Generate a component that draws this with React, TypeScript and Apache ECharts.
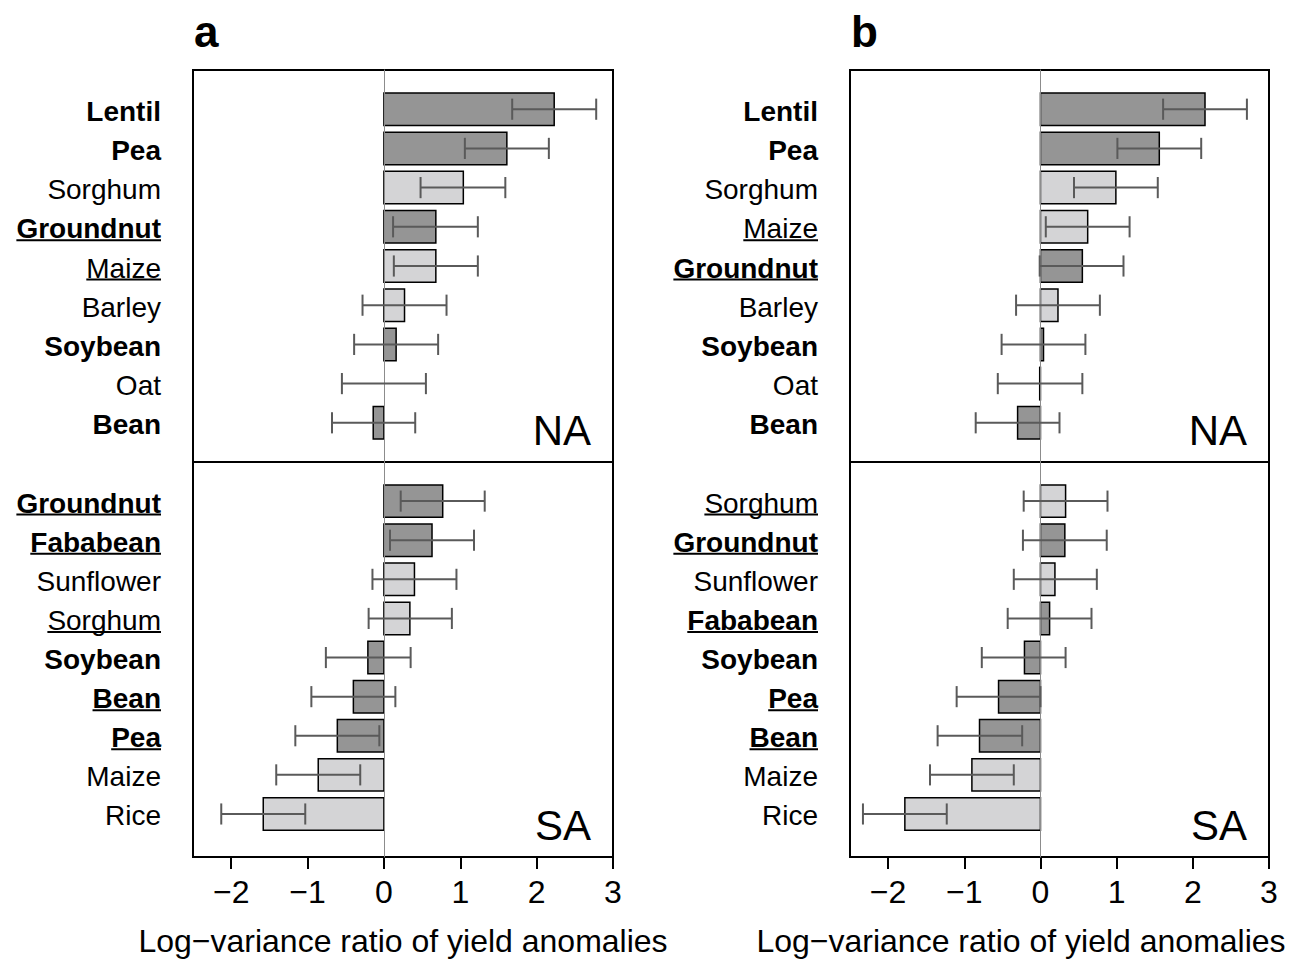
import React, { useEffect, useRef } from "react";
import * as echarts from "echarts";

// ---------- data ----------
const legumes = ["Lentil", "Pea", "Groundnut", "Soybean", "Bean", "Fababean"];

// Panel a – NA
const aNACrops = ["Lentil", "Pea", "Sorghum", "Groundnut", "Maize", "Barley", "Soybean", "Oat", "Bean"];
const aNAValues = [2.23, 1.61, 1.04, 0.68, 0.68, 0.27, 0.16, 0.0, -0.14];
const aNALower = [1.68, 1.06, 0.48, 0.12, 0.13, -0.28, -0.39, -0.55, -0.68];
const aNAUpper = [2.78, 2.16, 1.59, 1.23, 1.23, 0.82, 0.71, 0.55, 0.41];
const aNAUnderlined = [false, false, false, true, true, false, false, false, false];

// Panel a – SA
const aSACrops = ["Groundnut", "Fababean", "Sunflower", "Sorghum", "Soybean", "Bean", "Pea", "Maize", "Rice"];
const aSAValues = [0.77, 0.63, 0.4, 0.34, -0.21, -0.4, -0.61, -0.86, -1.58];
const aSALower = [0.22, 0.08, -0.15, -0.2, -0.76, -0.95, -1.16, -1.41, -2.13];
const aSAUpper = [1.32, 1.18, 0.95, 0.89, 0.35, 0.15, -0.06, -0.31, -1.03];
const aSAUnderlined = [true, true, false, true, false, true, true, false, false];

// Panel b – NA
const bNACrops = ["Lentil", "Pea", "Sorghum", "Maize", "Groundnut", "Barley", "Soybean", "Oat", "Bean"];
const bNAValues = [2.16, 1.56, 0.99, 0.62, 0.55, 0.23, 0.04, -0.01, -0.3];
const bNALower = [1.61, 1.01, 0.44, 0.07, -0.01, -0.32, -0.51, -0.56, -0.85];
const bNAUpper = [2.71, 2.11, 1.54, 1.17, 1.09, 0.78, 0.59, 0.55, 0.25];
const bNAUnderlined = [false, false, false, true, true, false, false, false, false];

// Panel b – SA
const bSACrops = ["Sorghum", "Groundnut", "Sunflower", "Fababean", "Soybean", "Pea", "Bean", "Maize", "Rice"];
const bSAValues = [0.33, 0.32, 0.19, 0.12, -0.21, -0.55, -0.8, -0.9, -1.78];
const bSALower = [-0.22, -0.23, -0.35, -0.43, -0.77, -1.1, -1.35, -1.45, -2.33];
const bSAUpper = [0.88, 0.87, 0.74, 0.67, 0.33, 0.0, -0.24, -0.35, -1.23];
const bSAUnderlined = [true, true, false, true, false, true, true, false, false];

const xTicks = [-2, -1, 0, 1, 2, 3];
const xTitle = "Log\u2212variance ratio of yield anomalies";

// ---------- style ----------
const FONT = "'Liberation Sans', Helvetica, Arial, sans-serif";
const DARK = "#959595";
const LIGHT = "#d4d4d6";
const ERR = "#5a5a5a";
const X_MIN = -2.5;
const X_MAX = 3;

function measure(text: string, bold: boolean, size: number): number {
  const ctx = document.createElement("canvas").getContext("2d");
  if (!ctx) return text.length * size * 0.55;
  ctx.font = `${bold ? "bold " : ""}${size}px ${FONT}`;
  return ctx.measureText(text).width;
}

export default function App() {
  const ref = useRef<HTMLDivElement>(null);

  useEffect(() => {
    document.body.style.margin = "0";
    if (!ref.current) return;
    const chart = echarts.init(ref.current, undefined, { renderer: "svg" });

    const panels = [
      { crops: aNACrops, values: aNAValues, lower: aNALower, upper: aNAUpper, under: aNAUnderlined, left: 193, top: 70, width: 420, height: 392, ymax: 9, showX: false, region: "NA" },
      { crops: aSACrops, values: aSAValues, lower: aSALower, upper: aSAUpper, under: aSAUnderlined, left: 193, top: 462, width: 420, height: 395, ymax: 9.1, showX: true, region: "SA" },
      { crops: bNACrops, values: bNAValues, lower: bNALower, upper: bNAUpper, under: bNAUnderlined, left: 850, top: 70, width: 419, height: 392, ymax: 9, showX: false, region: "NA" },
      { crops: bSACrops, values: bSAValues, lower: bSALower, upper: bSAUpper, under: bSAUnderlined, left: 850, top: 462, width: 419, height: 395, ymax: 9.1, showX: true, region: "SA" },
    ];

    const grid: any[] = [];
    const xAxis: any[] = [];
    const yAxis: any[] = [];
    const series: any[] = [];
    const graphic: any[] = [];

    panels.forEach((p, gi) => {
      grid.push({
        left: p.left, top: p.top, width: p.width, height: p.height,
        show: true, borderColor: "#000", borderWidth: 2, backgroundColor: "transparent",
      });
      xAxis.push({
        gridIndex: gi, type: "value", min: X_MIN, max: X_MAX, position: "bottom",
        axisLine: { show: false, onZero: false },
        splitLine: { show: false },
        axisTick: { show: p.showX, length: 12, customValues: xTicks, lineStyle: { color: "#000", width: 2 } },
        axisLabel: {
          show: p.showX, customValues: xTicks, fontSize: 32, margin: 19, color: "#000", fontFamily: FONT,
          formatter: (v: number) => (v < 0 ? "\u2212" + Math.abs(v) : String(v)),
        },
      });
      yAxis.push({
        gridIndex: gi, type: "value", min: -1, max: p.ymax, inverse: true, z: 3,
        axisLine: { show: true, onZero: true, lineStyle: { color: "#8c8c8c", width: 1 } },
        axisTick: { show: false }, axisLabel: { show: false }, splitLine: { show: false },
      });

      const data = p.crops.map((c, i) => [p.values[i], i, p.lower[i], p.upper[i], legumes.includes(c) ? 1 : 0]);

      // bars
      series.push({
        type: "custom", xAxisIndex: gi, yAxisIndex: gi, z: 2,
        encode: { x: 0, y: 1 },
        data,
        renderItem: (params: any, api: any) => {
          const v = api.value(0);
          const i = api.value(1);
          const p0 = api.coord([0, i]);
          const p1 = api.coord([v, i]);
          const h = api.size([0, 0.83])[1];
          const w = Math.abs(p1[0] - p0[0]);
          if (w < 0.3) return null;
          return {
            type: "rect",
            shape: { x: Math.min(p0[0], p1[0]), y: p0[1] - h / 2, width: w, height: h },
            style: { fill: api.value(4) === 1 ? DARK : LIGHT, stroke: "#000", lineWidth: 1.5 },
          };
        },
      });
      // error bars
      series.push({
        type: "custom", xAxisIndex: gi, yAxisIndex: gi, z: 4,
        encode: { x: 0, y: 1 },
        data,
        renderItem: (params: any, api: any) => {
          const i = api.value(1);
          const lo = api.coord([api.value(2), i]);
          const hi = api.coord([api.value(3), i]);
          const ch = api.size([0, 0.54])[1];
          const st = { stroke: ERR, lineWidth: 2 };
          return {
            type: "group",
            children: [
              { type: "line", shape: { x1: lo[0], y1: lo[1], x2: hi[0], y2: hi[1] }, style: st },
              { type: "line", shape: { x1: lo[0], y1: lo[1] - ch / 2, x2: lo[0], y2: lo[1] + ch / 2 }, style: st },
              { type: "line", shape: { x1: hi[0], y1: hi[1] - ch / 2, x2: hi[0], y2: hi[1] + ch / 2 }, style: st },
            ],
          };
        },
      });
      // category labels (bold for legumes, some underlined)
      series.push({
        type: "custom", xAxisIndex: gi, yAxisIndex: gi, z: 5, clip: false,
        encode: { x: 0, y: 1 },
        data,
        renderItem: (params: any, api: any) => {
          const i = api.value(1);
          const name = p.crops[params.dataIndex];
          const bold = legumes.includes(name);
          const pt = api.coord([X_MIN, i]);
          const x = pt[0] - 32;
          const y = pt[1] + 2;
          const children: any[] = [
            {
              type: "text",
              style: {
                text: name, x, y, align: "right", verticalAlign: "middle",
                fontSize: 28, fontWeight: bold ? "bold" : "normal", fontFamily: FONT, fill: "#000",
              },
            },
          ];
          if (p.under[params.dataIndex]) {
            const w = measure(name, bold, 28);
            const uy = pt[1] + 13.5;
            children.push({ type: "line", shape: { x1: x - w, y1: uy, x2: x, y2: uy }, style: { stroke: "#000", lineWidth: 2 } });
          }
          return { type: "group", children };
        },
      });

      // region label
      graphic.push({
        type: "text",
        x: p.left + p.width - 22, y: p.top + p.height - 32,
        style: { text: p.region, align: "right", verticalAlign: "middle", fontSize: 42, fontFamily: FONT, fill: "#000" },
        z: 10,
      });
    });

    // panel letters
    graphic.push({ type: "text", x: 194, y: 31, style: { text: "a", fontSize: 44, fontWeight: "bold", fontFamily: FONT, fill: "#000", verticalAlign: "middle" } });
    graphic.push({ type: "text", x: 851, y: 31, style: { text: "b", fontSize: 44, fontWeight: "bold", fontFamily: FONT, fill: "#000", verticalAlign: "middle" } });
    // axis titles
    graphic.push({ type: "text", x: 403, y: 941, style: { text: xTitle, fontSize: 32, fontFamily: FONT, fill: "#000", align: "center", verticalAlign: "middle" } });
    graphic.push({ type: "text", x: 1021, y: 941, style: { text: xTitle, fontSize: 32, fontFamily: FONT, fill: "#000", align: "center", verticalAlign: "middle" } });

    chart.setOption({
      animation: false,
      backgroundColor: "#fff",
      grid, xAxis, yAxis, series, graphic,
    });

    return () => chart.dispose();
  }, []);

  return <div ref={ref} style={{ width: 1295, height: 959 }} />;
}
